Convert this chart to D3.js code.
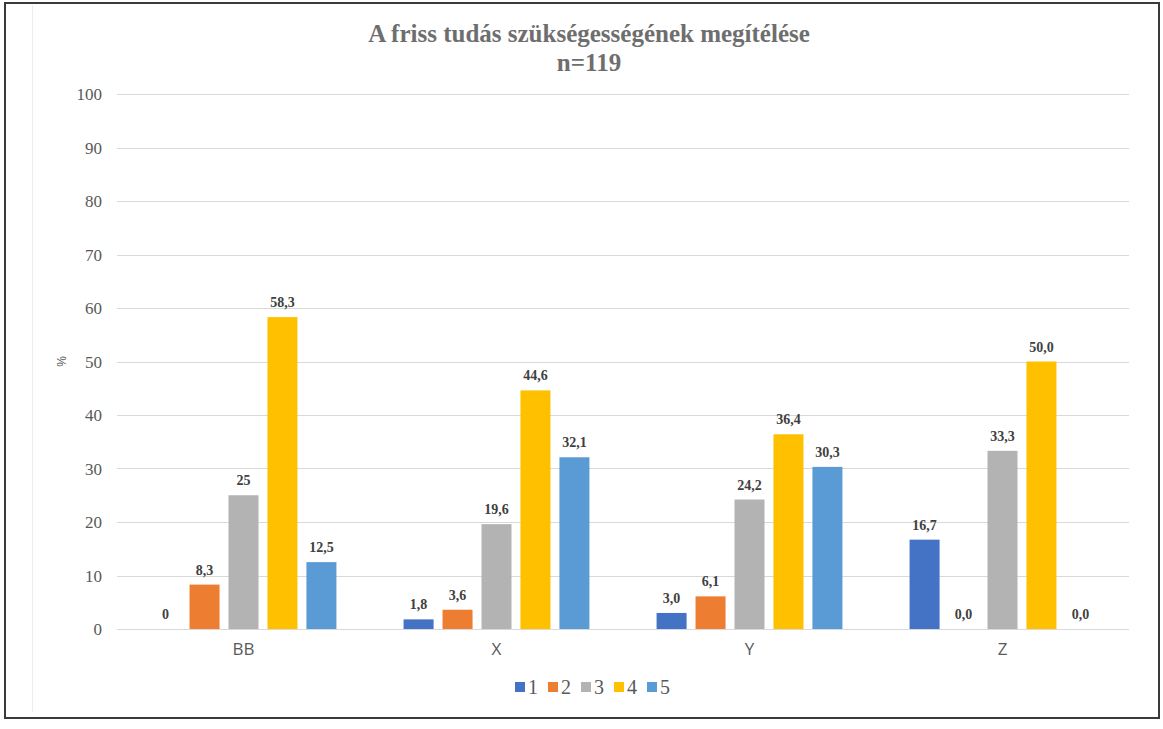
<!DOCTYPE html>
<html lang="hu">
<head>
<meta charset="utf-8">
<title>A friss tudás szükségességének megítélése</title>
<script src="https://cdn.jsdelivr.net/npm/d3@7"></script>
<style>
  body { margin: 0; background: #fff; }
  svg { display: block; }
</style>
</head>
<body>
<script>
// data
var categories = ["BB", "X", "Y", "Z"];
var seriesKeys = ["1", "2", "3", "4", "5"];
var seriesColors = ["#4472C4", "#ED7D31", "#B3B3B3", "#FFC000", "#5B9BD5"];
var values = [
  [0, 8.3, 25, 58.3, 12.5],
  [1.8, 3.6, 19.6, 44.6, 32.1],
  [3.0, 6.1, 24.2, 36.4, 30.3],
  [16.7, 0.0, 33.3, 50.0, 0.0]
];
var valueLabels = [
  ["0", "8,3", "25", "58,3", "12,5"],
  ["1,8", "3,6", "19,6", "44,6", "32,1"],
  ["3,0", "6,1", "24,2", "36,4", "30,3"],
  ["16,7", "0,0", "33,3", "50,0", "0,0"]
];
var yTicks = [0, 10, 20, 30, 40, 50, 60, 70, 80, 90, 100];

var w = 1163, h = 729;
var plotLeft = 117, plotRight = 1129, plotTop = 94, plotBottom = 629;

var svg = d3.select("body").append("svg")
  .attr("width", w)
  .attr("height", h);

// frame
svg.append("rect")
  .attr("x", 5).attr("y", 3)
  .attr("width", 1154).attr("height", 715)
  .attr("fill", "none")
  .attr("stroke", "#3a3a3a")
  .attr("stroke-width", 2);
svg.append("line")
  .attr("x1", 32.5).attr("x2", 32.5)
  .attr("y1", 5).attr("y2", 712)
  .attr("stroke", "#ececec");

var x0 = d3.scaleBand()
  .domain(categories)
  .range([plotLeft, plotRight])
  .paddingInner(0.23)
  .paddingOuter(0.115);

var x1 = d3.scaleBand()
  .domain(seriesKeys)
  .range([0, x0.bandwidth()])
  .paddingInner(0.23)
  .paddingOuter(0.115);

var y = d3.scaleLinear()
  .domain([0, 100])
  .range([plotBottom, plotTop]);

// gridlines
svg.append("g")
  .selectAll("line")
  .data(yTicks)
  .enter()
  .append("line")
  .attr("x1", plotLeft).attr("x2", plotRight)
  .attr("y1", function(d) { return Math.round(y(d)) + 0.5; })
  .attr("y2", function(d) { return Math.round(y(d)) + 0.5; })
  .attr("stroke", "#d9d9d9")
  .attr("stroke-width", 1);

// y tick labels
svg.append("g")
  .selectAll("text")
  .data(yTicks)
  .enter()
  .append("text")
  .text(function(d) { return d; })
  .attr("x", 102)
  .attr("y", function(d) { return y(d) + 6; })
  .attr("text-anchor", "end")
  .attr("font-family", "'Liberation Serif', serif")
  .attr("font-size", "17px")
  .attr("fill", "#595959");

svg.append("text")
  .text("%")
  .attr("transform", "translate(66," + ((plotTop + plotBottom) / 2) + ") rotate(-90)")
  .attr("text-anchor", "middle")
  .attr("font-family", "'Liberation Sans', sans-serif")
  .attr("font-size", "12px")
  .attr("fill", "#595959");

// bars
var groups = svg.append("g")
  .selectAll("g")
  .data(categories)
  .enter()
  .append("g")
  .attr("transform", function(d) { return "translate(" + x0(d) + ",0)"; });

groups.selectAll("rect")
  .data(function(d, i) {
    return values[i].map(function(v, j) { return { key: seriesKeys[j], v: v, c: seriesColors[j] }; });
  })
  .enter()
  .append("rect")
  .attr("x", function(d) { return x1(d.key); })
  .attr("y", function(d) { return y(d.v); })
  .attr("width", x1.bandwidth())
  .attr("height", function(d) { return plotBottom - y(d.v); })
  .attr("fill", function(d) { return d.c; });

// value labels
groups.selectAll("text")
  .data(function(d, i) {
    return values[i].map(function(v, j) { return { key: seriesKeys[j], v: v, t: valueLabels[i][j] }; });
  })
  .enter()
  .append("text")
  .text(function(d) { return d.t; })
  .attr("x", function(d) { return x1(d.key) + x1.bandwidth() / 2; })
  .attr("y", function(d) { return y(d.v) - 10; })
  .attr("text-anchor", "middle")
  .attr("font-family", "'Liberation Serif', serif")
  .attr("font-weight", "bold")
  .attr("font-size", "14px")
  .attr("fill", "#404040");

// category labels
svg.append("g")
  .selectAll("text")
  .data(categories)
  .enter()
  .append("text")
  .text(function(d) { return d; })
  .attr("x", function(d) { return x0(d) + x0.bandwidth() / 2; })
  .attr("y", 655)
  .attr("text-anchor", "middle")
  .attr("font-family", "'Open Sans', sans-serif")
  .attr("font-size", "17px")
  .attr("fill", "#595959");

// title
svg.append("text")
  .attr("x", 589)
  .attr("y", 42)
  .attr("text-anchor", "middle")
  .attr("font-family", "'Liberation Serif', serif")
  .attr("font-weight", "bold")
  .attr("font-size", "25px")
  .attr("fill", "#6e6e6e")
  .text("A friss tudás szükségességének megítélése");
svg.append("text")
  .attr("x", 589)
  .attr("y", 71)
  .attr("text-anchor", "middle")
  .attr("font-family", "'Liberation Serif', serif")
  .attr("font-weight", "bold")
  .attr("font-size", "25px")
  .attr("fill", "#6e6e6e")
  .text("n=119");

// legend
var legend = svg.append("g")
  .selectAll("g")
  .data(seriesKeys)
  .enter()
  .append("g")
  .attr("transform", function(d, i) { return "translate(" + (515 + i * 33) + ",682)"; });
legend.append("rect")
  .attr("width", 10).attr("height", 10)
  .attr("fill", function(d, i) { return seriesColors[i]; });
legend.append("text")
  .text(function(d) { return d; })
  .attr("x", 13)
  .attr("y", 12)
  .attr("font-family", "'Liberation Serif', serif")
  .attr("font-size", "20px")
  .attr("fill", "#595959");
</script>
</body>
</html>
